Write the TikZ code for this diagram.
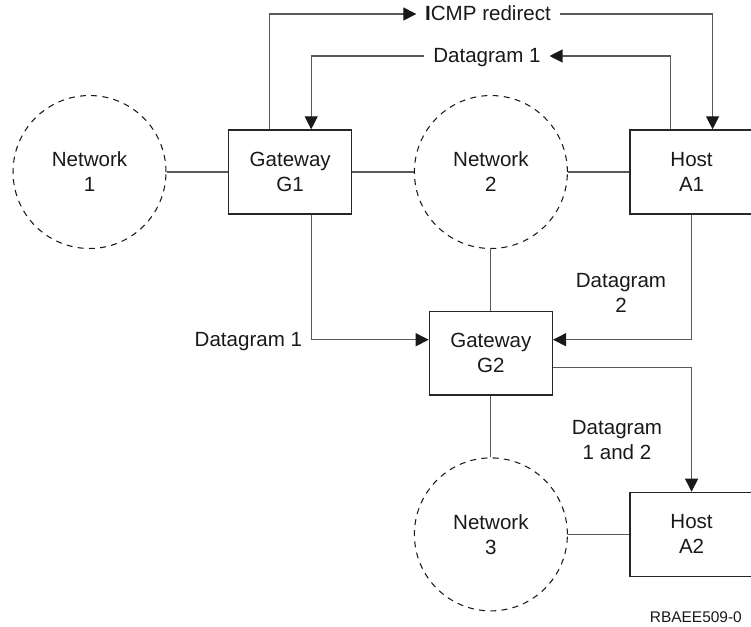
\documentclass[tikz,border=0pt]{standalone}
\usepackage{fontspec}
\setmainfont{Liberation Sans}
\usetikzlibrary{positioning}
\usetikzlibrary{arrows.meta}
\tikzset{
  network/.style   = {circle, draw=black!90, line width=0.6pt,
                      dash pattern=on 3.4pt off 3pt, align=center,
                      minimum size=3.06cm, inner sep=0pt},
  device/.style    = {rectangle, draw=black!85, line width=0.8pt,
                      align=center, minimum width=2.46cm, minimum height=1.68cm},
  link/.style      = {draw=black!65, line width=0.7pt},
  flow/.style      = {link, -{Triangle[length=0.26cm, width=0.26cm, color=black!90]}},
  flowlabel/.style = {inner sep=0.17cm, text height=0.72em, text depth=0pt},
  tag/.style       = {align=center}
}

\begin{document}
\begin{tikzpicture}
  [
    x             = 0.02cm,
    y             = -0.02cm,
    node distance = 1.23cm,
    font          = \fontsize{11.7}{14.2}\selectfont,
    text          = black!90
  ]
  \useasboundingbox (0,0) rectangle (751,626);
  \node [network] (net1) at (89.5,172) {Network\\1};
  \node [device] (gw1) [right=of net1] {Gateway\\G1};
  \node [network] (net2) [right=of gw1] {Network\\2};
  \node [device] (hosta1) [right=of net2] {Host\\A1};
  \node [device] (gw2) [below=of net2] {Gateway\\G2};
  \node [network] (net3) [below=of gw2] {Network\\3};
  \node [device] (hosta2) [right=of net3] {Host\\A2};
  \node [flowlabel] (icmp) at (488,14) {\textbf{I}CMP redirect};
  \node [flowlabel] (dgtop) at (487,56) {Datagram 1};
  \node [tag] (dg2) at (621,293) {Datagram\\2};
  \node [tag] (dg12) at (617,440) {Datagram\\1 and 2};
  \node [anchor=east, font=\fontsize{8.8}{10}\selectfont] (figid) at (748,617) {RBAEE509-0};
  \path[link] (net1) edge (gw1);
  \path[link] (gw1) edge (net2);
  \path[link] (net2) edge (hosta1);
  \path[link] (net2) edge (gw2);
  \path[link] (gw2) edge (net3);
  \path[link] (net3) edge (hosta2);
  \draw[flow] ([xshift=-0.41cm]gw1.north) |- (icmp.west);
  \draw[flow] (icmp.east) -| ([xshift=0.42cm]hosta1.north);
  \draw[flow] ([xshift=-0.42cm]hosta1.north) |- (dgtop.east);
  \draw[flow] (dgtop.west) -| ([xshift=0.42cm]gw1.north);
  \draw[flow] ([xshift=0.42cm]gw1.south) |- ([yshift=0.27cm]gw2.west)
    node [flowlabel, pos=0.5, left] (dglow) {Datagram 1};
  \draw[flow] (hosta1.south) |- ([yshift=0.27cm]gw2.east);
  \draw[flow] ([yshift=-0.29cm]gw2.east) -| (hosta2.north);
\end{tikzpicture}
\end{document}
